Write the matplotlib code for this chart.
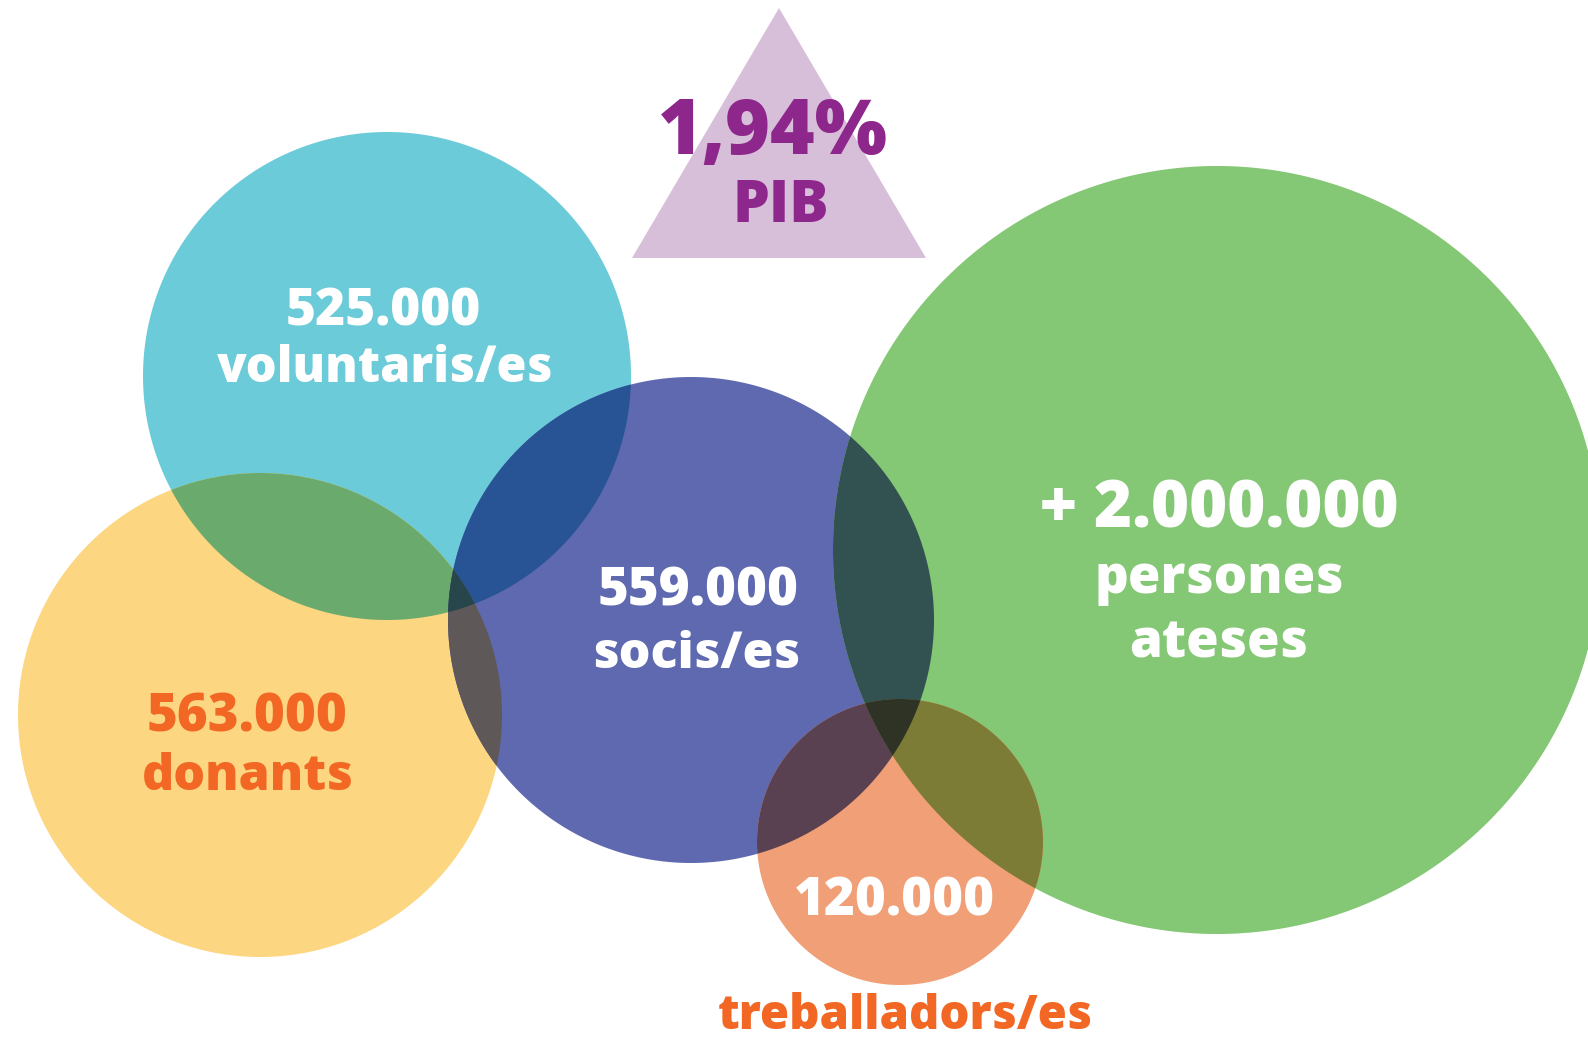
import numpy as np
import matplotlib
matplotlib.use("Agg")
import matplotlib.pyplot as plt
from matplotlib.patches import Polygon
from itertools import combinations

# ---- data ----
values = ["525.000", "563.000", "559.000", "+ 2.000.000", "120.000"]
labels = ["voluntaris/es", "donants", "socis/es", "persones\nateses", "treballadors/es"]
pib_value = "1,94%"
pib_label = "PIB"

# ---- layout (pixel coordinates) ----
centers = [(387, 376), (260, 715), (691, 620), (1217, 550), (900, 842)]
radii = [244, 242, 243, 384, 143]
colors = ["#6BCBD8", "#FCD681", "#5F69B0", "#84C774", "#F09F76"]
tri = [(779, 8), (632, 258), (926, 258)]
tri_color = "#D8BFD9"
white = "#FFFFFF"
orange_txt = "#F26724"
purple_txt = "#8E278C"
FONT = ["Open Sans", "DejaVu Sans"]
WEIGHT = 800

W, H = 1588, 1040
fig = plt.figure(figsize=(W / 100, H / 100), dpi=100)
ax = fig.add_axes([0, 0, 1, 1])
ax.set_xlim(0, W)
ax.set_ylim(H, 0)
ax.set_aspect("equal")
ax.axis("off")

N = 3000
th = np.linspace(0, 2 * np.pi, N, endpoint=False)


def circ_pts(i):
    cx, cy = centers[i]
    r = radii[i]
    return np.column_stack([cx + r * np.cos(th), cy + r * np.sin(th)])


def inside(pts, i):
    cx, cy = centers[i]
    return (pts[:, 0] - cx) ** 2 + (pts[:, 1] - cy) ** 2 <= radii[i] ** 2 + 1e-9


def rgb(c):
    return np.array(matplotlib.colors.to_rgb(c))


# single circles
for i in range(len(centers)):
    ax.add_patch(Polygon(circ_pts(i), closed=True, facecolor=colors[i],
                         edgecolor="none", zorder=1))

# overlaps with multiply blending, painted by increasing subset size
for k in (2, 3, 4):
    for sub in combinations(range(len(centers)), k):
        pts_all = []
        for i in sub:
            p = circ_pts(i)
            m = np.ones(len(p), bool)
            for j in sub:
                if j != i:
                    m &= inside(p, j)
            pts_all.append(p[m])
        pts = np.vstack(pts_all)
        if len(pts) < 3:
            continue
        c = pts.mean(axis=0)
        order = np.argsort(np.arctan2(pts[:, 1] - c[1], pts[:, 0] - c[0]))
        pts = pts[order]
        col = np.ones(3)
        for i in sub:
            col = col * rgb(colors[i])
        ax.add_patch(Polygon(pts, closed=True, facecolor=col, edgecolor="none",
                             zorder=1 + k))

# triangle
ax.add_patch(Polygon(tri, closed=True, facecolor=tri_color, edgecolor="none", zorder=1))


def txt(x, y, s, size, color):
    ax.text(x, y, s, fontsize=size, color=color, ha="center", va="baseline",
            fontweight=WEIGHT, family=FONT, zorder=10)


# voluntaris
txt(383, 325, values[0], 37, white)
txt(385, 382, labels[0], 35, white)
# donants
txt(247, 732, values[1], 38, orange_txt)
txt(248, 790, labels[1], 36, orange_txt)
# socis
txt(698, 605, values[2], 38, white)
txt(696, 668, labels[2], 36, white)
# persones ateses
p1, p2 = labels[3].split("\n")
txt(1219, 528, values[3], 47, white)
txt(1219, 593, p1, 38, white)
txt(1219, 657, p2, 38, white)
# treballadors
txt(894, 915, values[4], 38, white)
txt(905, 1029, labels[4], 34, orange_txt)
# PIB
txt(773, 154, pib_value, 55, purple_txt)
txt(781, 222, pib_label, 42, purple_txt)

fig.savefig("out.png", dpi=100, facecolor="white")
